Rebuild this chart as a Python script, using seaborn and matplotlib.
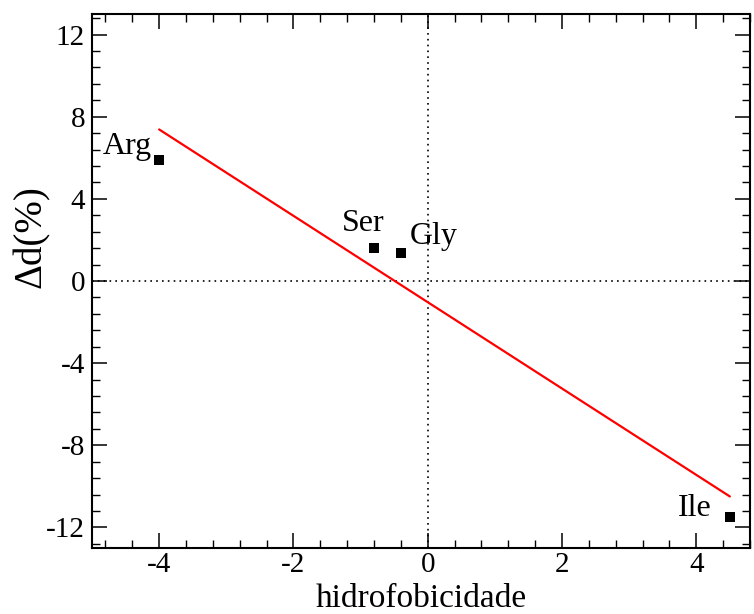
import matplotlib
matplotlib.use("Agg")
import matplotlib.pyplot as plt
import seaborn as sns
import pandas as pd
from matplotlib.ticker import MultipleLocator

# data
residues = ["Arg", "Ser", "Gly", "Ile"]
hydro = [-4.0, -0.8, -0.4, 4.5]
delta_d = [5.9, 1.6, 1.35, -11.5]
label_x = [-4.84, -1.28, -0.27, 3.73]
label_y = [6.2, 2.45, 1.8, -11.45]

df = pd.DataFrame({"x": hydro, "y": delta_d})

sns.set_theme(style="ticks")
plt.rcParams["font.family"] = ["Liberation Serif", "DejaVu Serif"]
plt.rcParams["axes.unicode_minus"] = False
plt.rcParams["text.color"] = "black"
plt.rcParams["axes.labelcolor"] = "black"
plt.rcParams["xtick.color"] = "black"
plt.rcParams["ytick.color"] = "black"

fig = plt.figure(figsize=(7.54, 6.14), dpi=100)
ax = fig.add_axes([92/754, 1-548/614, (750-92)/754, (548-14)/614])

ax.axhline(0, color="black", lw=1.2, ls=(0, (1, 2.5)), zorder=1)
ax.axvline(0, color="black", lw=1.2, ls=(0, (1, 2.5)), zorder=1)

sns.regplot(data=df, x="x", y="y", scatter=False, ci=None, color="red",
            line_kws={"lw": 1.6}, truncate=True, ax=ax)
sns.scatterplot(data=df, x="x", y="y", marker="s", s=48, color="black",
                edgecolor="black", linewidth=0, ax=ax, zorder=3)

for name, lx, ly in zip(residues, label_x, label_y):
    ax.text(lx, ly, name, fontsize=23, ha="left", va="baseline", color="black")

ax.set_xlim(-5, 4.8)
ax.set_ylim(-13, 13)
ax.xaxis.set_major_locator(MultipleLocator(2))
ax.xaxis.set_minor_locator(MultipleLocator(0.4))
ax.yaxis.set_major_locator(MultipleLocator(4))
ax.yaxis.set_minor_locator(MultipleLocator(0.8))

ax.tick_params(which="both", direction="in", top=True, right=True,
               colors="black", labelsize=21)
ax.tick_params(which="major", length=11, width=1.1)
ax.tick_params(which="minor", length=6, width=1.0)
ax.tick_params(axis="x", which="major", pad=3)
ax.tick_params(axis="y", which="major", pad=5)

for sp in ax.spines.values():
    sp.set_linewidth(1.5)
    sp.set_color("black")
    sp.set_visible(True)

ax.set_xlabel("hidrofobicidade", fontsize=24)
ax.xaxis.label.set_verticalalignment("baseline")
ax.xaxis.set_label_coords(0.5, (548 - 607) / 534)

ax.set_ylabel("Δd(%)", fontsize=28)
ax.yaxis.label.set_verticalalignment("center")
ax.yaxis.set_label_coords((31 - 92) / 658, (548 - 237) / 534)

fig.savefig("out.png", dpi=100)
